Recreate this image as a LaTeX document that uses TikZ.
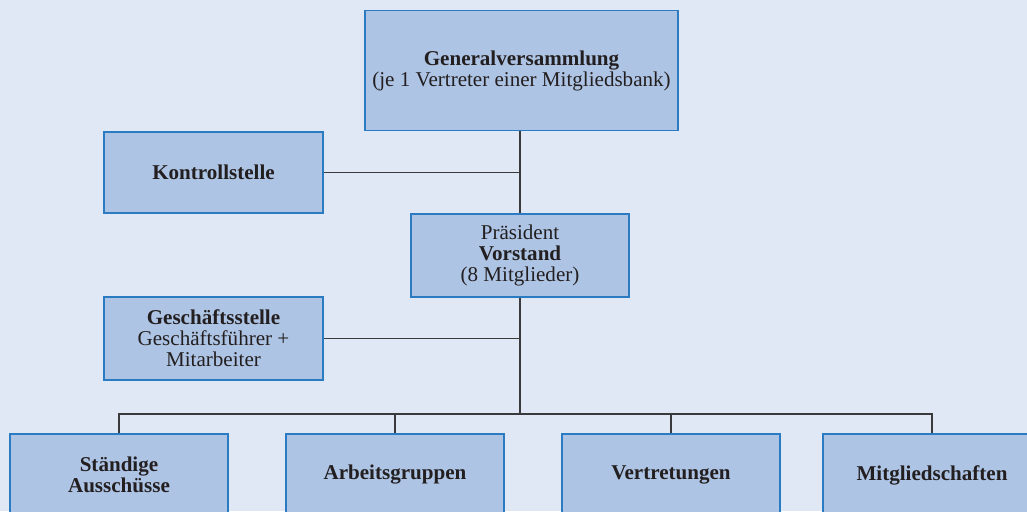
\documentclass[tikz,border=0pt]{standalone}
\usepackage{fontspec}
\setmainfont{Liberation Serif}
\definecolor{bgc}{HTML}{E0E8F5}
\definecolor{boxfill}{HTML}{AEC4E4}
\definecolor{boxdraw}{HTML}{2B7BC2}
\definecolor{txt}{HTML}{231F20}
\definecolor{linec}{HTML}{3A3A3C}
\begin{document}
\begin{tikzpicture}[x=0.75pt,y=-0.75pt,
  orgbox/.style={draw=boxdraw,fill=boxfill,line width=0.9pt,align=center,text=txt,
    font=\fontsize{15.8}{15.75}\selectfont,inner sep=0pt},
  conn/.style={draw=linec,line width=1pt}]
\fill[bgc] (0,0) rectangle (1027,511);
\useasboundingbox (0,0) rectangle (1027,511);
\begin{scope}
\clip (0,0) rectangle (1027,511);
\node[orgbox,minimum width=234.75pt,minimum height=90pt] (gv) at (521.5,70.5)
  {\textbf{Generalversammlung}\\(je 1 Vertreter einer Mitgliedsbank)};
\node[orgbox,minimum width=164.25pt,minimum height=60.75pt] (ks) at (213.5,172.5)
  {\textbf{Kontrollstelle}};
\node[orgbox,minimum width=163.5pt,minimum height=62.25pt] (vs) at (520,255.5)
  {Präsident\\\textbf{Vorstand}\\(8 Mitglieder)};
\node[orgbox,minimum width=164.25pt,minimum height=62.25pt] (gs) at (213.5,338.5)
  {\textbf{Geschäftsstelle}\\Geschäftsführer +\\Mitarbeiter};
\node[orgbox,minimum width=163.5pt,minimum height=61.5pt] (b1) at (119,475)
  {\textbf{Ständige}\\\textbf{Ausschüsse}};
\node[orgbox,minimum width=163.5pt,minimum height=61.5pt] (b2) at (395,475)
  {\textbf{Arbeitsgruppen}};
\node[orgbox,minimum width=163.5pt,minimum height=61.5pt] (b3) at (671,475)
  {\textbf{Vertretungen}};
\node[orgbox,minimum width=163.5pt,minimum height=61.5pt] (b4) at (932,475)
  {\textbf{Mitgliedschaften}};
\coordinate (bus) at (520,414);
\draw[conn] (vs.north) -- (vs.north |- gv.south);
\draw[conn] (ks.east) -- (ks.east -| vs.north);
\draw[conn] (gs.east) -- (gs.east -| vs.south);
\draw[conn] (vs.south) -- (bus);
\draw[conn] (b1.north) |- (bus) -| (b4.north);
\draw[conn] (b2.north) -- (b2.north |- bus);
\draw[conn] (b3.north) -- (b3.north |- bus);
\end{scope}
\end{tikzpicture}
\end{document}
